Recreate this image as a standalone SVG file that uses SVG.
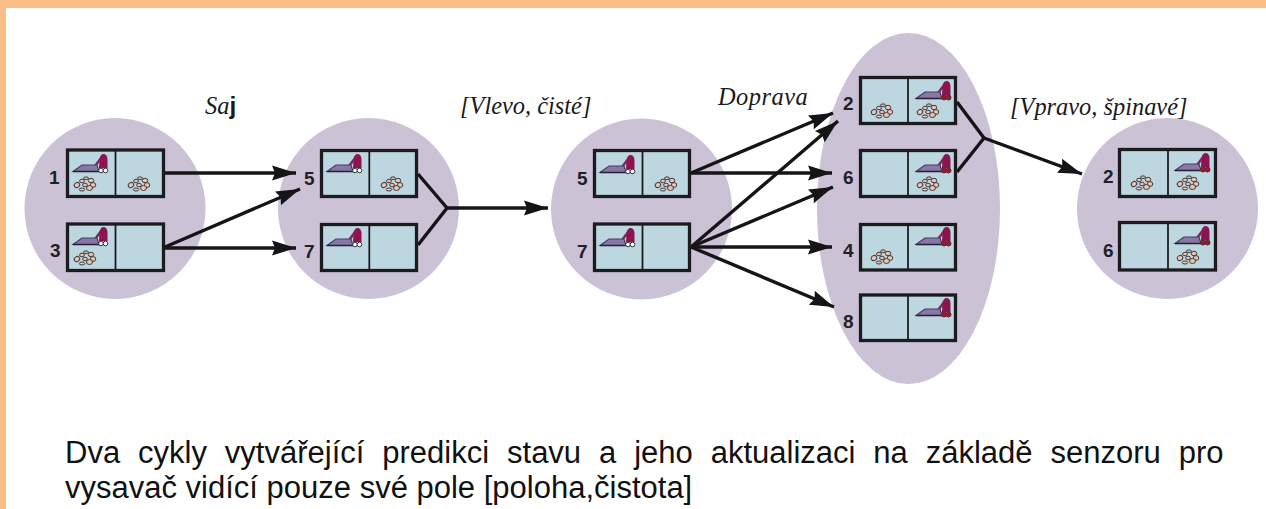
<svg xmlns="http://www.w3.org/2000/svg" xmlns:xlink="http://www.w3.org/1999/xlink" width="1266" height="509" viewBox="0 0 1266 509">
<style>
.blob{fill:#cbc2d6}
.box{fill:#bcd7e0;stroke:#1c1c20;stroke-width:3.3}
.div{stroke:#1c1c20;stroke-width:1.8}
.c{stroke:#151518;stroke-width:3.4;fill:none}
.a{marker-end:url(#ah)}
.n{font:700 19px "Liberation Sans",Arial,sans-serif;fill:#222226}
.l{font:italic 24.4px "Liberation Serif","Times New Roman",serif;fill:#1a1a1a}
.b{font:31px "Liberation Sans",Arial,sans-serif;fill:#111}
</style>
<defs>
<marker id="ah" markerUnits="userSpaceOnUse" markerWidth="26" markerHeight="16" refX="24" refY="8" orient="auto" viewBox="0 0 26 16"><path d="M0 .5L24 8L0 15.500L3 8Z" fill="#151518"/></marker>
<g id="dirt" fill="#eec3a8" stroke="#3e3e4a" stroke-width="1">
<ellipse cx="3" cy="8" rx="2.800" ry="2.400" transform="rotate(-30 3 8)"/><ellipse cx="8" cy="4" rx="2.400" ry="1.800"/><ellipse cx="12" cy="1.200" rx="2.500" ry="1.300"/><ellipse cx="17" cy="3.500" rx="2.800" ry="2.200"/><ellipse cx="11" cy="8" rx="2.400" ry="1.800"/><ellipse cx="19" cy="8" rx="2.800" ry="2.400"/><ellipse cx="15.500" cy="11" rx="3" ry="2.500"/><ellipse cx="8" cy="12.500" rx="2.800" ry="1.500"/>
</g>
<g id="vacw">
<path d="M22 12L29 3" fill="none" stroke="#7a2a60" stroke-width="2.600"/>
<path d="M0 17.500L9 11H24L26 17.500Z" fill="#8778a6" stroke="#4a3a68" stroke-width="1.200"/>
<path d="M0 17.500H26" stroke="#2a2438" stroke-width="1.600"/>
<path d="M26 14L26.500 5Q27.500 0 30.500 0Q34 0 34.500 5V14Z" fill="#8d1450"/>
<circle cx="28" cy="16.500" r="2.300" fill="#fff" stroke="#333" stroke-width="1"/><circle cx="32.500" cy="16.500" r="2.300" fill="#fff" stroke="#333" stroke-width="1"/>
</g>
<g id="vacr">
<use xlink:href="#vacw" href="#vacw"/>
<circle cx="28" cy="16.500" r="2.500" fill="#a01830" stroke="#333" stroke-width=".6"/><circle cx="32.500" cy="16.500" r="2.500" fill="#a01830" stroke="#333" stroke-width=".6"/>
</g>
</defs>
<rect width="1266" height="509" fill="#fff"/>
<path d="M0 0H1266V8H6V509H0Z" fill="#fdbd87"/>
<g id="belief1"><circle class="blob" cx="115" cy="208.500" r="90.500"/></g>
<g id="belief2"><circle class="blob" cx="368.500" cy="208.500" r="90.500"/></g>
<g id="belief3"><circle class="blob" cx="641.500" cy="209" r="90.500"/></g>
<g id="belief4"><ellipse class="blob" cx="908.500" cy="208.500" rx="91.500" ry="175.500"/></g>
<g id="belief5"><circle class="blob" cx="1167.500" cy="208.500" r="90.500"/></g>

<g id="connectors">
<path class="c a" d="M164 173H296"/>
<path class="c a" d="M165 247L300 189"/>
<path class="c a" d="M165 248H296"/>
<path class="c" d="M418 174L447 208L418 245"/>
<path class="c a" d="M447 208H548"/>
<path class="c a" d="M691 173L833 113"/>
<path class="c a" d="M691 173H832"/>
<path class="c a" d="M691 247L838 121"/>
<path class="c a" d="M691 247L833 187"/>
<path class="c a" d="M691 247H832"/>
<path class="c a" d="M691 247L834 307"/>
<path class="c" d="M957 102L984 138L957 172"/>
<path class="c a" d="M984 138L1082 174"/>
</g>

<g id="s1"><rect class="box" x="67.500" y="150" width="96" height="46.500"/><path class="div" d="M115.500 150V197"/><use href="#vacw" x="73" y="154"/><use href="#dirt" x="74" y="177"/><use href="#dirt" x="128" y="177"/><text class="n" x="49" y="184">1</text></g>
<g id="s3"><rect class="box" x="67.500" y="224" width="96" height="46.500"/><path class="div" d="M115.500 224V271"/><use href="#vacw" x="73" y="227"/><use href="#dirt" x="74" y="251"/><text class="n" x="50" y="257">3</text></g>

<g id="s5a"><rect class="box" x="321.500" y="150.500" width="95" height="46"/><path class="div" d="M369.300 150V197"/><use href="#vacw" x="327" y="154"/><use href="#dirt" x="381" y="177"/><text class="n" x="304" y="185">5</text></g>
<g id="s7a"><rect class="box" x="321.500" y="224.500" width="95" height="46"/><path class="div" d="M369.300 224V271"/><use href="#vacw" x="327" y="228"/><text class="n" x="304" y="258">7</text></g>

<g id="s5b"><rect class="box" x="594.500" y="150.500" width="95" height="46"/><path class="div" d="M642.500 150V197"/><use href="#vacw" x="600" y="155"/><use href="#dirt" x="655" y="177"/><text class="n" x="577" y="185">5</text></g>
<g id="s7b"><rect class="box" x="594.500" y="224" width="95" height="46.500"/><path class="div" d="M642.500 224V271"/><use href="#vacw" x="600" y="228"/><text class="n" x="577" y="258">7</text></g>

<g id="s2a"><rect class="box" x="860.500" y="77.500" width="95" height="46"/><path class="div" d="M908 77V124"/><use href="#vacr" x="916" y="81"/><use href="#dirt" x="871" y="104"/><use href="#dirt" x="917" y="104"/><text class="n" x="843" y="110">2</text></g>
<g id="s6a"><rect class="box" x="860.500" y="150.500" width="95" height="46"/><path class="div" d="M908 150V197"/><use href="#vacr" x="916" y="154"/><use href="#dirt" x="917" y="177"/><text class="n" x="843" y="184">6</text></g>
<g id="s4"><rect class="box" x="860.500" y="224.500" width="95" height="45.500"/><path class="div" d="M908 224V270"/><use href="#vacr" x="916" y="227"/><use href="#dirt" x="871" y="250"/><text class="n" x="843" y="257">4</text></g>
<g id="s8"><rect class="box" x="860.500" y="295" width="95" height="45.500"/><path class="div" d="M908 295V341"/><use href="#vacr" x="916" y="298"/><text class="n" x="843" y="328">8</text></g>

<g id="s2b"><rect class="box" x="1119.500" y="149.500" width="96" height="47"/><path class="div" d="M1168 149V197"/><use href="#vacr" x="1175" y="153"/><use href="#dirt" x="1131" y="176"/><use href="#dirt" x="1177" y="176"/><text class="n" x="1103" y="183">2</text></g>
<g id="s6b"><rect class="box" x="1119.500" y="222.500" width="96" height="47.500"/><path class="div" d="M1168 222V271"/><use href="#vacr" x="1175" y="226"/><use href="#dirt" x="1177" y="250"/><text class="n" x="1103" y="257">6</text></g>

<g id="labels">
<text class="l" x="205" y="114">Sa<tspan font-style="normal" font-weight="700" font-family="Liberation Sans">j</tspan></text>
<text class="l" x="460" y="114">[Vlevo, čisté]</text>
<text class="l" x="718" y="105" letter-spacing=".5">Doprava</text>
<text class="l" x="1010" y="115">[Vpravo, špinavé]</text>
<text class="b" x="65" y="463" word-spacing="9.300">Dva cykly vytvářející predikci stavu a jeho aktualizaci na základě senzoru pro</text>
<text class="b" x="65" y="498">vysavač vidící pouze své pole [poloha,čistota]</text>
</g>
</svg>
